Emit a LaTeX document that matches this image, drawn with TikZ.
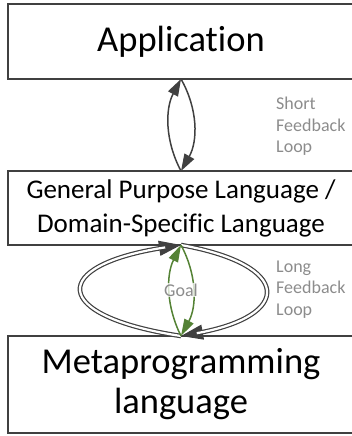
\documentclass[tikz,border=0pt]{standalone}
\usepackage{fontspec}
\setmainfont{Carlito}[Ligatures=NoCommon]
\usepackage{tikz}
\usetikzlibrary{arrows.meta,positioning,calc}
\usepackage{xcolor}
\definecolor{boxgray}{RGB}{64,64,64}
\definecolor{notegray}{RGB}{140,140,140}
\definecolor{goalgreen}{RGB}{84,130,53}
\tikzstyle{box} = [draw=boxgray, line width=2pt, fill=white, inner sep=0pt, outer sep=0pt, align=center]
\tikzstyle{loop} = [draw=boxgray, line width=1.5pt, -{Triangle[length=17pt,width=11pt]}]
\tikzstyle{longhead} = [draw=boxgray, line width=1.2pt, -{Triangle[length=22pt,width=15pt]}]
\tikzstyle{longloop} = [draw=boxgray, line width=1.2pt, double=white, double distance=2.2pt, shorten >=16pt]
\tikzstyle{goalarc} = [draw=goalgreen, line width=1.5pt, -{Triangle[length=17pt,width=10pt]}]
\tikzstyle{note} = [text=notegray, font=\fontsize{18}{21.5}\selectfont, align=left, anchor=west, inner sep=0pt]

\begin{document}
\begin{tikzpicture}[x=1pt, y=-1pt]
    \useasboundingbox (0,0) rectangle (352,436);

    % Boxes
    \node[box, minimum width=346pt, minimum height=74.5pt, font=\fontsize{36.5}{44}\selectfont] (app) at (181,41.75) {Application};
    \node[box, minimum width=346pt, minimum height=74pt, font=\fontsize{27}{34}\selectfont] (gpl) at (181,208) {General Purpose Language /\\Domain-Specific Language};
    \node[box, minimum width=346pt, minimum height=97pt, font=\fontsize{36.5}{40}\selectfont] (meta) at (181,384.5) {Metaprogramming\\language};

    % Short feedback loop
    \draw[loop] (gpl.north) .. controls +(-16,-30) and +(-16,30) .. (app.south);
    \draw[loop] (app.south) .. controls +(17,30) and +(17,-30) .. (gpl.north);
    \node[note] (short) at (276,126.5) {Short\\Feedback\\Loop};

    % Long feedback loop (tips first, double line on top)
    \draw[longhead] (meta.north) .. controls +(-132,-20) and +(-132,20) .. (gpl.south);
    \draw[longhead] (gpl.south) .. controls +(112,20) and +(112,-20) .. (meta.north);
    \draw[longloop] (meta.north) .. controls +(-132,-20) and +(-132,20) .. (gpl.south);
    \draw[longloop] (gpl.south) .. controls +(112,20) and +(112,-20) .. (meta.north);
    \node[note] (long) at (276,289.5) {Long\\Feedback\\Loop};

    % Goal
    \draw[goalarc] (meta.north) .. controls +(-15,-30) and +(-15,30) .. (gpl.south);
    \draw[goalarc] (gpl.south) .. controls +(16,30) and +(16,-30) .. (meta.north);
    \node[text=notegray, font=\fontsize{18}{21.5}\selectfont, fill=white, fill opacity=0.75, text opacity=1, inner sep=1pt] (goal) at (181,290) {Goal};
\end{tikzpicture}
\end{document}
